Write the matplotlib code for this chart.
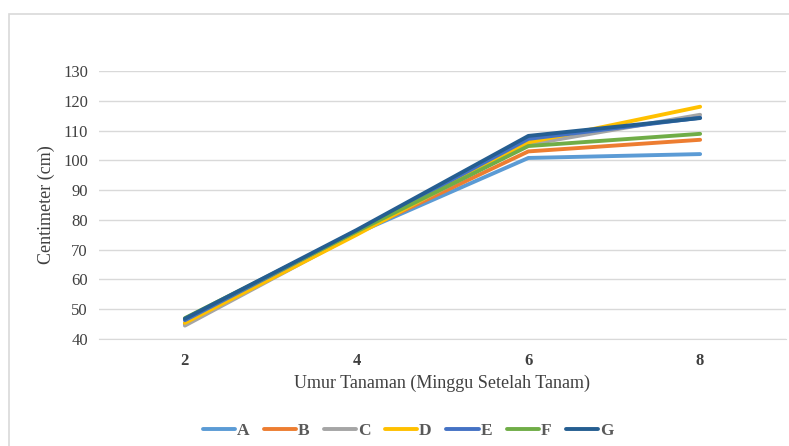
import matplotlib.pyplot as plt
from matplotlib.patches import Rectangle

weeks = ['2', '4', '6', '8']
series = {
    'A': [45.0, 75.5, 100.8, 102.1],
    'B': [45.2, 75.6, 103.0, 106.9],
    'C': [44.5, 75.4, 105.3, 115.3],
    'D': [45.4, 75.0, 106.0, 118.0],
    'E': [46.3, 76.3, 107.2, 114.3],
    'F': [47.0, 76.1, 104.8, 108.9],
    'G': [46.8, 76.6, 108.2, 114.2],
}
colors = ['#5b9bd5', '#ed7d31', '#a5a5a5', '#ffc000', '#4472c4', '#70ad47', '#255e91']

plt.rcParams['font.family'] = ['Liberation Serif', 'DejaVu Serif']

fig = plt.figure(figsize=(7.89, 4.46), dpi=100)
# chart border, cut off at right and bottom like the source
fig.patches.append(Rectangle((9 / 789, -0.1), 1.0, 1 - 14 / 446 + 0.1,
                             transform=fig.transFigure, fill=False,
                             edgecolor='#d9d9d9', linewidth=1.2))

ax = fig.add_axes([99 / 789, 1 - 339 / 446, 687 / 789, 268 / 446])
x = range(len(weeks))
for (name, vals), c in zip(series.items(), colors):
    ax.plot(x, vals, color=c, linewidth=2.8, label=name, solid_capstyle='round')

ax.set_xlim(-0.5, 3.5)
ax.set_ylim(40, 130)
ax.set_yticks(range(40, 131, 10))
ax.set_xticks(list(x))
ax.set_xticklabels(weeks, fontweight='bold')
ax.grid(axis='y', color='#d9d9d9', linewidth=1)
ax.set_axisbelow(True)
for s in ['top', 'right', 'left']:
    ax.spines[s].set_visible(False)
ax.spines['bottom'].set_color('#d9d9d9')
ax.tick_params(axis='both', length=0, labelsize=12, colors='#404040', pad=8)
ax.tick_params(axis='x', pad=10)
ax.set_ylabel('Centimeter (cm)', fontsize=13, color='#404040', labelpad=6)
ax.set_xlabel('Umur Tanaman (Minggu Setelah Tanam)', fontsize=13, color='#404040', labelpad=4)

leg = fig.legend(loc='center', bbox_to_anchor=(0.517, 1 - 431 / 446), ncol=7,
                 frameon=False, prop={'weight': 'bold', 'size': 12.5},
                 handlelength=1.85, handletextpad=0.1, columnspacing=0.85)
for t in leg.get_texts():
    t.set_color('#595959')

fig.savefig('out.png', dpi=100)
